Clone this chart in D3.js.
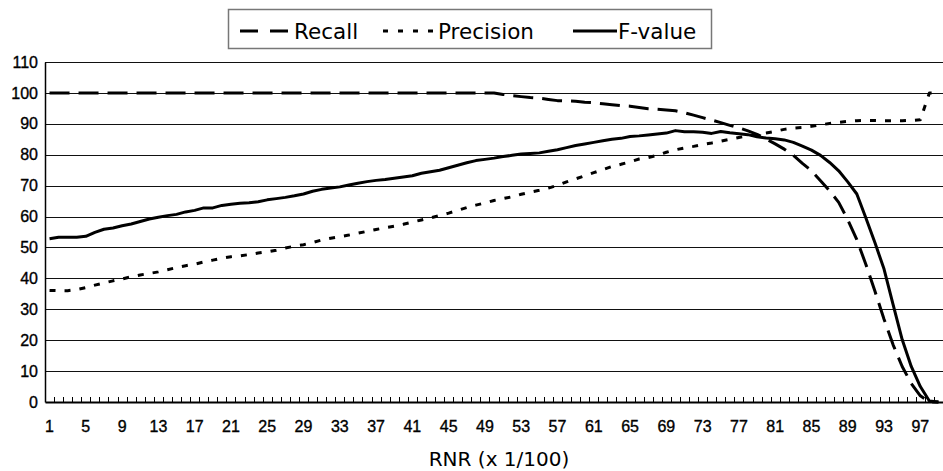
<!DOCTYPE html>
<html>
<head>
<meta charset="utf-8">
<script src="https://cdn.jsdelivr.net/npm/d3@7"></script>
<style>
  html, body { margin: 0; padding: 0; background: #fff; }
  svg { display: block; }
</style>
</head>
<body>
<svg id="chart" width="943" height="471"></svg>
<script>
// ---- data ----
const categories = d3.range(1, 100); // RNR 1..99
const tickLabels = d3.range(1, 98, 4); // 1,5,...,97
const yTicks = d3.range(0, 111, 10);

const recall = [
  100,100,100,100,100,100,100,100,100,100,
  100,100,100,100,100,100,100,100,100,100,
  100,100,100,100,100,100,100,100,100,100,
  100,100,100,100,100,100,100,100,100,100,
  100,100,100,100,100,100,100,100,100,100,
  99.5,99.1,98.8,98.5,98.3,97.9,97.5,97.4,97.3,97.0,
  96.8,96.5,96.2,95.9,95.7,95.3,94.9,94.7,94.5,94.2,
  93.6,92.8,92.0,91.2,90.4,89.5,88.7,87.7,86.6,85.1,
  83.5,81.8,79.8,77.2,74.8,71.6,68.3,64.6,59.0,52.5,
  44.5,35.8,26.8,18.5,11.5,6.0,2.0,0,0
];

const precision = [
  36.1,36.0,36.0,36.4,37.0,37.8,38.5,39.2,39.8,40.5,
  41.1,41.6,42.1,42.8,43.5,44.1,44.6,45.3,45.9,46.5,
  47.0,47.3,47.7,48.2,48.6,49.1,49.8,50.4,50.9,51.6,
  52.4,53.0,53.5,54.0,54.6,55.2,55.8,56.4,56.9,57.5,
  58.2,58.9,59.6,60.3,61.1,62.0,62.9,63.7,64.4,65.2,
  65.8,66.4,67.2,67.9,68.5,69.2,70.1,71.2,72.2,73.2,
  74.2,75.2,76.2,76.9,77.7,78.6,79.1,79.8,80.8,81.6,
  82.2,82.7,83.3,83.8,84.4,85.0,85.6,86.1,86.5,87.0,
  87.6,88.2,88.6,88.8,89.2,89.7,90.1,90.5,90.8,91.0,
  91.1,91.1,91.0,91.0,91.0,91.1,91.3,100,100
];

const fvalue = [
  52.8,53.3,53.3,53.3,53.6,54.9,55.9,56.3,57.0,57.6,
  58.4,59.2,59.8,60.3,60.7,61.5,62.0,62.8,62.8,63.6,
  64.0,64.3,64.5,64.8,65.4,65.8,66.2,66.7,67.3,68.2,
  68.8,69.2,69.6,70.2,70.8,71.3,71.7,72.0,72.4,72.8,
  73.2,74.0,74.5,75.0,75.8,76.6,77.4,78.1,78.5,78.9,
  79.4,79.8,80.2,80.4,80.6,81.1,81.6,82.3,83.0,83.5,
  84.0,84.5,85.0,85.3,85.9,86.1,86.4,86.7,87.0,87.8,
  87.4,87.4,87.3,86.9,87.5,87.1,86.8,86.5,85.8,85.4,
  85.2,84.8,84.0,82.8,81.5,79.8,77.5,74.8,71.2,67.3,
  59.5,51.5,43.0,31.5,20.2,11.5,5.0,0.3,0
];

const seriesNames = ["Recall", "Precision", "F-value"];
const xTitle = "RNR (x 1/100)";

// ---- layout ----
const svg = d3.select("#chart");
const plotL = 45, plotR = 943, plotT = 62, plotB = 402;

const x = d3.scaleBand().domain(categories).range([plotL, plotR]).paddingInner(0).paddingOuter(0);
const y = d3.scaleLinear().domain([0, 110]).range([plotB, plotT]);
const cx = d => x(d) + x.bandwidth() / 2;

// gridlines
svg.append("g").selectAll("line").data(yTicks.filter(v => v > 0)).join("line")
  .attr("x1", plotL).attr("x2", plotR)
  .attr("y1", d => Math.round(y(d)) + 0.5).attr("y2", d => Math.round(y(d)) + 0.5)
  .attr("stroke", "#111").attr("stroke-width", 1);

// y axis
const yAxis = d3.axisLeft(y).tickValues(yTicks).tickSize(0).tickPadding(7);
const gy = svg.append("g").attr("transform", `translate(${plotL},0)`).call(yAxis);
gy.select(".domain").attr("stroke", "#000").attr("stroke-width", 1.5);
gy.selectAll("text").attr("font-family", "Liberation Sans, Arial, sans-serif")
  .attr("font-size", 16).attr("fill", "#000")
  .attr("stroke", "#000").attr("stroke-width", 0.35);

// x axis: labels every 4th category
const xAxis = d3.axisBottom(x).tickValues(tickLabels).tickSize(0).tickPadding(19);
const gx = svg.append("g").attr("transform", `translate(0,${plotB})`).call(xAxis);
gx.select(".domain").attr("stroke", "#000").attr("stroke-width", 2);
gx.selectAll("text").attr("font-family", "Liberation Sans, Arial, sans-serif")
  .attr("font-size", 16).attr("fill", "#000")
  .attr("stroke", "#000").attr("stroke-width", 0.35);

// small inner ticks at category boundaries
svg.append("g").selectAll("line").data(d3.range(0, categories.length + 1)).join("line")
  .attr("x1", k => Math.round(plotL + k * x.step()) + 0.5)
  .attr("x2", k => Math.round(plotL + k * x.step()) + 0.5)
  .attr("y1", plotB).attr("y2", plotB - 5)
  .attr("stroke", "#000").attr("stroke-width", 1);

// axis title
svg.append("text").attr("x", 499).attr("y", 466).attr("text-anchor", "middle")
  .attr("font-family", "DejaVu Sans, sans-serif").attr("font-size", 20).attr("fill", "#000")
  .text(xTitle);

// lines
const line = d3.line().x((d, i) => cx(categories[i])).y(d => y(d));
const styles = [
  { data: recall, dash: "20,9" },
  { data: precision, dash: "6,9" },
  { data: fvalue, dash: null }
];
styles.forEach(s => {
  svg.append("path").datum(s.data).attr("d", line)
    .attr("fill", "none").attr("stroke", "#000").attr("stroke-width", 3)
    .attr("stroke-dasharray", s.dash).attr("stroke-linejoin", "round");
});

// legend
const lg = svg.append("g");
lg.append("rect").attr("x", 228.5).attr("y", 9.5).attr("width", 483).attr("height", 39)
  .attr("fill", "#fff").attr("stroke", "#777").attr("stroke-width", 1.5);
const legendItems = [
  { name: seriesNames[0], x1: 240, x2: 291, dash: "18,12", tx: 294 },
  { name: seriesNames[1], x1: 383, x2: 437, dash: "5,10", tx: 438 },
  { name: seriesNames[2], x1: 573, x2: 617, dash: null, tx: 618 }
];
legendItems.forEach(it => {
  lg.append("line").attr("x1", it.x1).attr("x2", it.x2).attr("y1", 31).attr("y2", 31)
    .attr("stroke", "#000").attr("stroke-width", 3).attr("stroke-dasharray", it.dash);
  lg.append("text").attr("x", it.tx).attr("y", 39)
    .attr("font-family", "DejaVu Sans, sans-serif").attr("font-size", 21.5).attr("fill", "#000")
    .text(it.name);
});
</script>
</body>
</html>
